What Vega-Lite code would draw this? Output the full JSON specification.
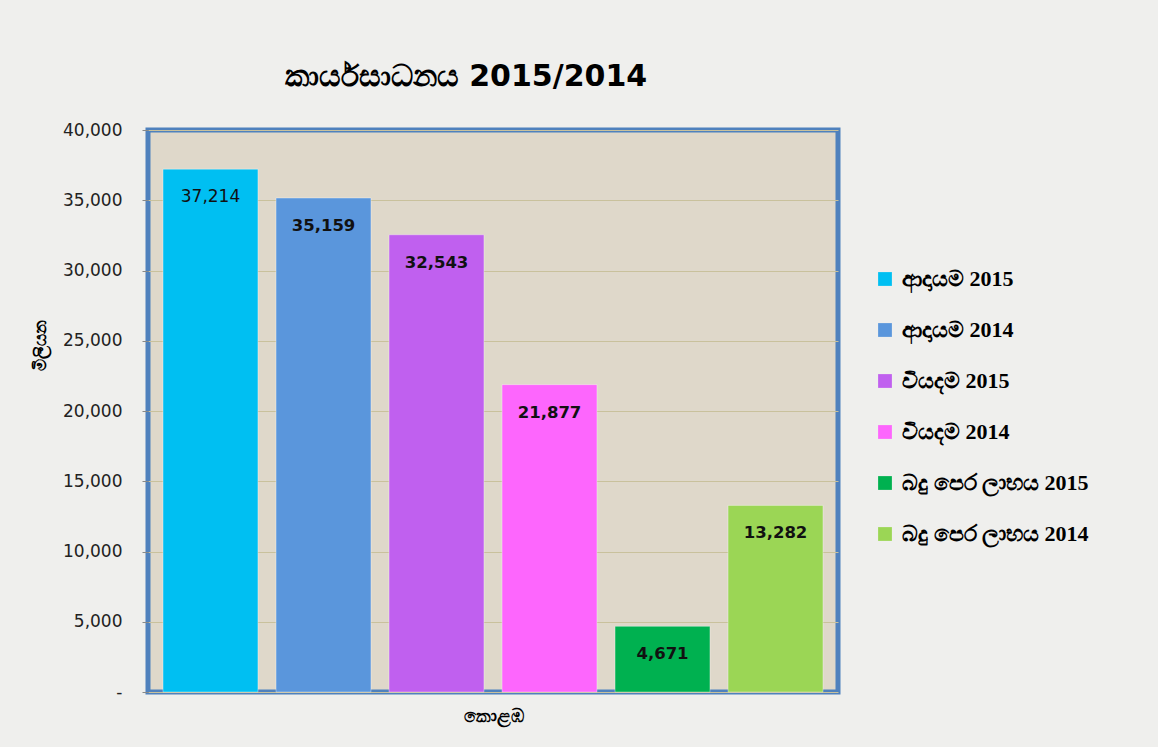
{
  "$schema": "https://vega.github.io/schema/vega-lite/v6.json",
  "width": 690,
  "height": 562,
  "autosize": {"type": "none"},
  "padding": {"left": 148, "top": 130, "right": 320, "bottom": 55},
  "background": "#efefed",
  "title": {
    "text": "කාර්යසාධනය 2015/2014",
    "fontSize": 30,
    "font": "DejaVu Sans",
    "fontWeight": "bold",
    "color": "#000000",
    "offset": 29,
    "anchor": "middle",
    "dx": -27
  },
  "config": {
    "view": {"fill": "#dfd8ca", "stroke": "#4f81bd", "strokeWidth": 5},
    "axis": {"labelFont": "DejaVu Sans", "titleFont": "DejaVu Sans"}
  },
  "data": {
    "values": [
      {"series": "ආදායම 2015", "value": 37214, "strong": 0},
      {"series": "ආදායම 2014", "value": 35159, "strong": 1},
      {"series": "වියදම 2015", "value": 32543, "strong": 1},
      {"series": "වියදම 2014", "value": 21877, "strong": 1},
      {"series": "බදු පෙර ලාභය 2015", "value": 4671, "strong": 1},
      {"series": "බදු පෙර ලාභය 2014", "value": 13282, "strong": 1}
    ]
  },
  "encoding": {
    "x": {
      "field": "series",
      "type": "nominal",
      "sort": null,
      "scale": {"paddingInner": 0.16, "paddingOuter": 0.133},
      "axis": {
        "labels": false,
        "ticks": false,
        "domain": false,
        "title": "කොළඹ",
        "titleFontSize": 18,
        "titleFontWeight": "bold",
        "titleColor": "#000000",
        "titlePadding": 15,
        "titleX": 345
      }
    },
    "y": {
      "field": "value",
      "type": "quantitative",
      "scale": {"domain": [0, 40000], "nice": false},
      "axis": {
        "values": [0, 5000, 10000, 15000, 20000, 25000, 30000, 35000, 40000],
        "labelExpr": "datum.value == 0 ? '-' : format(datum.value, ',')",
        "labelFontSize": 17,
        "labelColor": "#222222",
        "labelPadding": 20,
        "tickSize": 6,
        "tickColor": "#888888",
        "domain": false,
        "gridColor": "#c9c19c",
        "gridWidth": 1.2,
        "title": "මිලියන",
        "titleFontSize": 17,
        "titleFontWeight": "bold",
        "titleColor": "#000000",
        "titlePadding": 13,
        "titleY": 215
      }
    }
  },
  "layer": [
    {
      "mark": {"type": "bar", "stroke": "#ffffff", "strokeOpacity": 0.35, "strokeWidth": 1},
      "encoding": {
        "color": {
          "field": "series",
          "type": "nominal",
          "sort": null,
          "scale": {
            "domain": ["ආදායම 2015", "ආදායම 2014", "වියදම 2015", "වියදම 2014", "බදු පෙර ලාභය 2015", "බදු පෙර ලාභය 2014"],
            "range": ["#00bff2", "#5a96dc", "#c060ef", "#fd66fd", "#00b150", "#9bd655"]
          },
          "legend": {
            "title": null,
            "orient": "none",
            "legendX": 726,
            "legendY": 138,
            "symbolType": "square",
            "symbolSize": 190,
            "symbolStrokeWidth": 0,
            "labelFont": "Liberation Serif",
            "labelFontSize": 22,
            "labelFontWeight": "bold",
            "labelColor": "#000000",
            "labelLimit": 300,
            "labelOffset": 6,
            "rowPadding": 29
          }
        }
      }
    },
    {
      "transform": [{"filter": "datum.strong == 0"}],
      "mark": {"type": "text", "dy": 28, "font": "DejaVu Sans", "fontSize": 17, "color": "#111111", "baseline": "middle"},
      "encoding": {"text": {"field": "value", "type": "quantitative", "format": ","}}
    },
    {
      "transform": [{"filter": "datum.strong == 1"}],
      "mark": {"type": "text", "dy": 28, "font": "DejaVu Sans", "fontSize": 16.5, "fontWeight": "bold", "color": "#111111", "baseline": "middle"},
      "encoding": {"text": {"field": "value", "type": "quantitative", "format": ","}}
    }
  ]
}
